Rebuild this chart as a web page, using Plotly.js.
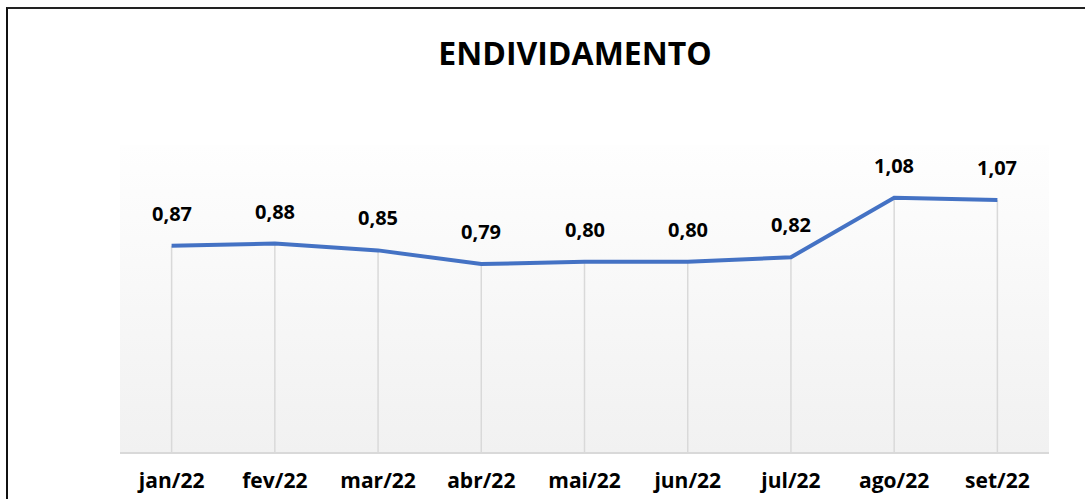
<!DOCTYPE html>
<html>
<head>
<meta charset="utf-8">
<script src="https://cdn.plot.ly/plotly-3.0.1.min.js"></script>
<style>
  html, body { margin: 0; padding: 0; background: #fff; }
  #chart { width: 1085px; height: 499px; }
  #frame {
    position: absolute; left: 6px; top: 7px; right: -5px; bottom: -5px;
    border-left: 2px solid #111; border-top: 2px solid #222;
    pointer-events: none;
  }
</style>
</head>
<body>
<div id="chart"></div>
<div id="frame"></div>
<script>
const months = ["jan/22", "fev/22", "mar/22", "abr/22", "mai/22", "jun/22", "jul/22", "ago/22", "set/22"];
const values = [0.87, 0.88, 0.85, 0.79, 0.80, 0.80, 0.82, 1.08, 1.07];
const yRange = [-0.032, 1.311];

const font = "Open Sans, Noto Sans, sans-serif";

// drop lines from each point down to the axis
const dropX = [], dropY = [];
months.forEach((m, i) => {
    dropX.push(m, m, null);
    dropY.push(yRange[0], values[i], null);
});

const gradSvg = '<svg xmlns="http://www.w3.org/2000/svg" width="10" height="10" preserveAspectRatio="none">' +
    '<defs><linearGradient id="g" x1="0" y1="0" x2="0" y2="1">' +
    '<stop offset="0" stop-color="#fefefe"/><stop offset="1" stop-color="#f1f1f1"/>' +
    '</linearGradient></defs><rect width="10" height="10" fill="url(#g)"/></svg>';

const plotData = [
    {
        x: dropX,
        y: dropY,
        mode: "lines",
        type: "scatter",
        line: {color: "#d9d9d9", width: 1.5},
        hoverinfo: "skip"
    },
    {
        x: months,
        y: values,
        mode: "lines",
        type: "scatter",
        line: {color: "#4472c4", width: 4}
    }
];

const annotations = months.map((m, i) => ({
    x: m,
    y: values[i],
    text: values[i].toFixed(2).replace(".", ","),
    showarrow: false,
    yanchor: "bottom",
    yshift: 17,
    font: {family: font, size: 20, color: "#000", weight: "bold"}
}));

const layout = {
    width: 1085,
    height: 499,
    title: {
        text: "<b>ENDIVIDAMENTO</b>",
        font: {family: font, size: 32, color: "#000"},
        xref: "container", x: 575 / 1085, xanchor: "center",
        yref: "container", y: 1 - 54 / 499, yanchor: "middle"
    },
    showlegend: false,
    paper_bgcolor: "#fff",
    plot_bgcolor: "rgba(0,0,0,0)",
    margin: {l: 120, r: 36, t: 145, b: 47},
    xaxis: {
        type: "category",
        range: [-0.5, months.length - 0.5],
        showgrid: false,
        zeroline: false,
        showline: true,
        linecolor: "#d9d9d9",
        linewidth: 2,
        ticks: "",
        ticklabelstandoff: 9,
        tickfont: {family: font, size: 21, color: "#000", weight: "bold"}
    },
    yaxis: {
        range: yRange,
        showgrid: false,
        zeroline: false,
        showticklabels: false,
        ticks: ""
    },
    images: [{
        source: "data:image/svg+xml;charset=utf-8," + encodeURIComponent(gradSvg),
        xref: "paper", yref: "paper",
        x: 0, y: 1, sizex: 1, sizey: 1,
        sizing: "stretch",
        xanchor: "left", yanchor: "top",
        layer: "below"
    }],
    annotations: annotations
};

Plotly.newPlot("chart", plotData, layout, {displayModeBar: false, staticPlot: true});
</script>
</body>
</html>
